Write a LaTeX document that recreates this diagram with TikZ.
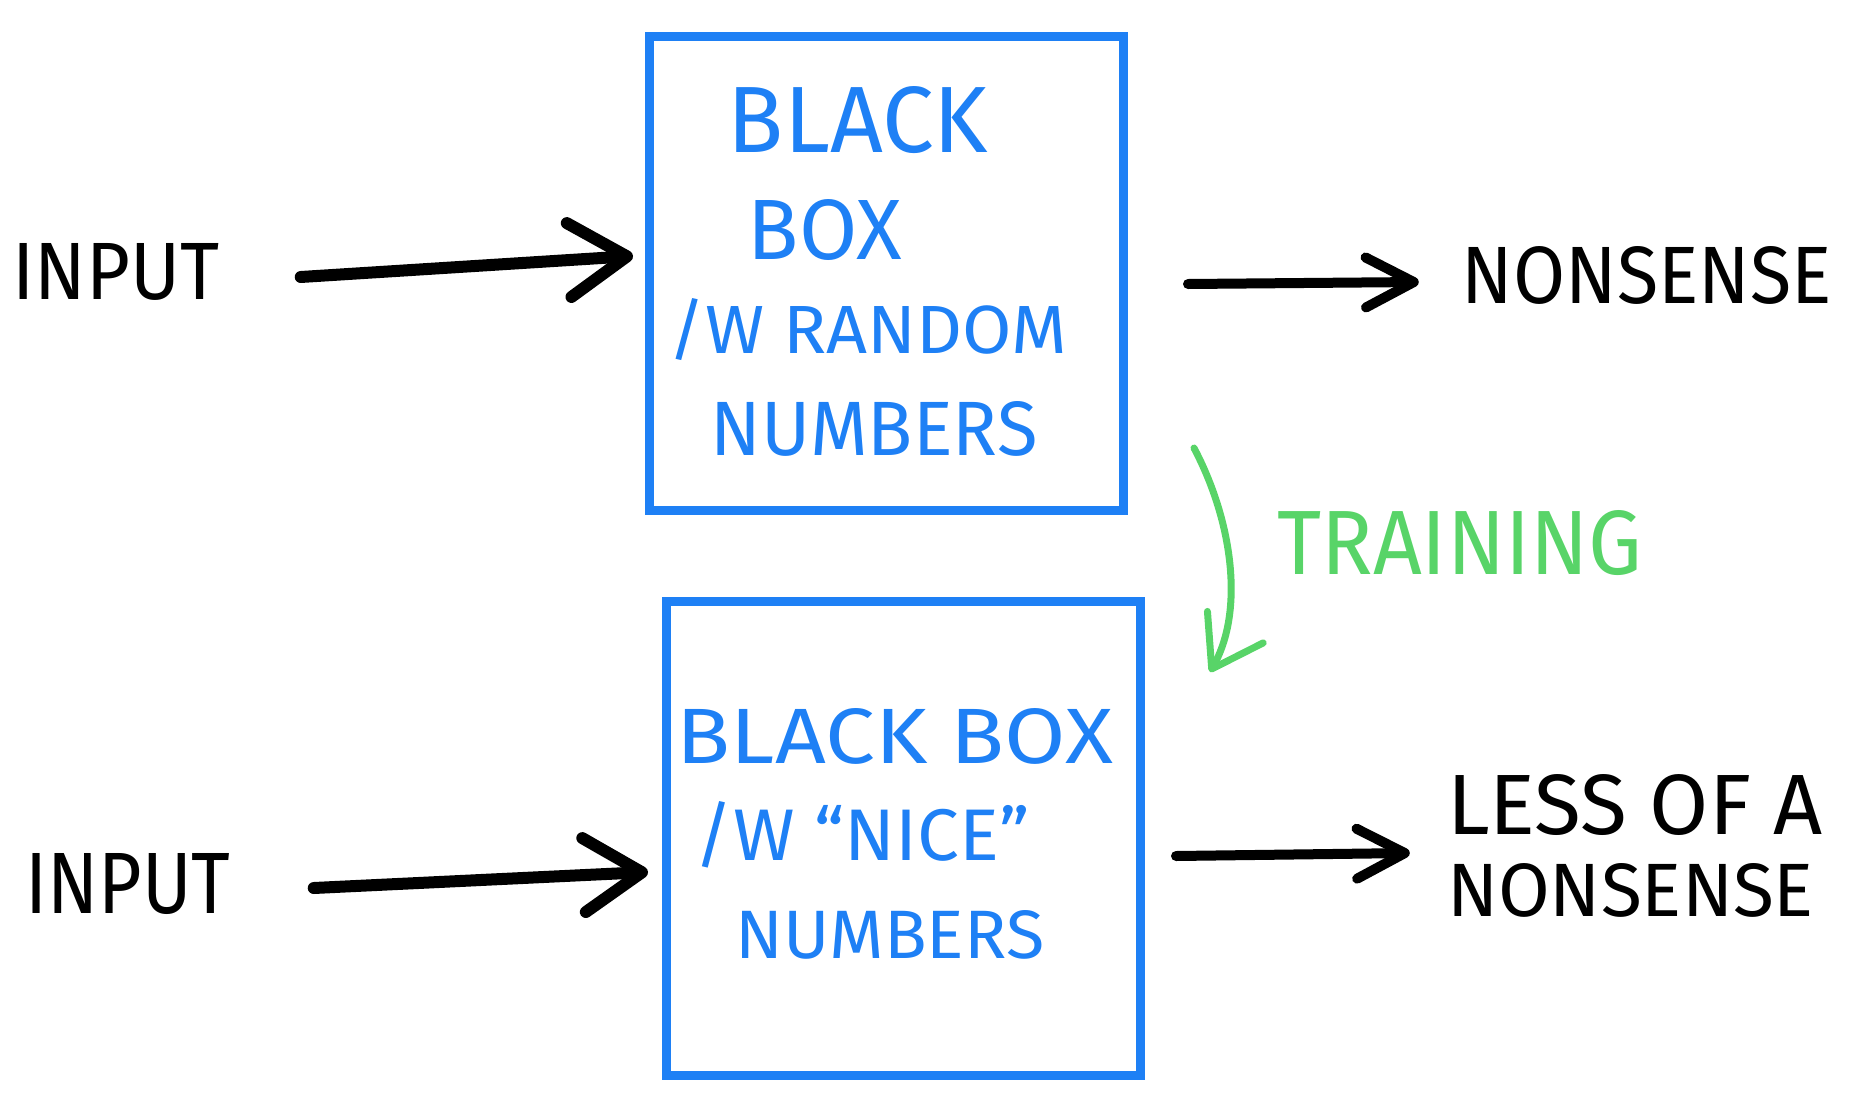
\documentclass[tikz,border=0pt]{standalone}
\usepackage{fontspec}
\setmainfont{Fira Sans}
\usetikzlibrary{arrows.meta}
\definecolor{hwblue}{RGB}{30,128,245}
\definecolor{hwgreen}{RGB}{88,212,104}
\newcommand{\hw}[3]{\resizebox{#1pt}{#2pt}{#3}}
\begin{document}
\begin{tikzpicture}[x=1pt,y=-1pt,
  bbox/.style={draw=hwblue,line width=9pt,minimum width=474pt,minimum height=474pt,inner sep=0pt},
  lbl/.style={inner sep=0pt,anchor=center},
  bluetxt/.style={lbl,text=hwblue},
  karrow/.style={line width=12pt,line cap=round,line join=round,
    -{Straight Barb[length=58pt,width=74pt,line cap=round,line join=round]}},
  rarrow/.style={line width=10pt,line cap=round,line join=round,
    -{Straight Barb[length=48pt,width=50pt,line cap=round,line join=round]}},
  garrow/.style={draw=hwgreen,line width=7pt,line cap=round,line join=round,
    -{Straight Barb[length=48pt,width=64pt,line cap=round,line join=round]}}
]
\useasboundingbox (0,0) rectangle (1856,1106);

% top row
\node[lbl] (in1) at (116,272) {\hw{207}{56}{INPUT}};
\node[bbox] (box1) at (886.5,273.5) {};
\node[bluetxt] (t1a) at (858,120) {\hw{260}{66}{BLACK}};
\node[bluetxt] (t1b) at (825,230) {\hw{154}{60}{BOX}};
\node[bluetxt] (t1c) at (868,330) {\hw{399}{55}{/W RANDOM}};
\node[bluetxt] (t1d) at (874,429) {\hw{327}{54}{NUMBERS}};
\node[lbl] (out1) at (1647,275) {\hw{370}{57}{NONSENSE}};

% training
\node[lbl,text=hwgreen] (train) at (1460,543) {\hw{365}{64}{TRAINING}};
\coordinate (g0) at (1194,448);
\coordinate (g1) at (1210,672);
\draw[garrow] (g0) .. controls (1232,520) and (1245,610) .. (g1);

% bottom row
\node[lbl] (in2) at (128,884) {\hw{205}{60}{INPUT}};
\node[bbox] (box2) at (903.5,838.5) {};
\node[bluetxt] (t2a) at (895,736) {\hw{436}{55}{BLACK BOX}};
\node[bluetxt] (t2b) at (862,835) {\hw{335}{59}{/W “NICE”}};
\node[bluetxt] (t2c) at (890,935) {\hw{309}{48}{NUMBERS}};
\node[lbl,align=left,font=\fontsize{60}{82}\selectfont] (out2) at (1635,846)
  {\hw{376}{60}{LESS OF A}\\\hw{367}{53}{NONSENSE}};

% connectors
\draw[karrow] ([xshift=81pt,yshift=-5pt]in1.east) -- ([xshift=-12pt,yshift=17.5pt]box1.west);
\draw[rarrow] ([xshift=60pt,yshift=-10.5pt]box1.east) -- ([xshift=-43pt,yshift=-7pt]out1.west);
\draw[karrow] ([xshift=83pt,yshift=-4pt]in2.east) -- ([xshift=-14pt,yshift=-33.5pt]box2.west);
\draw[rarrow] ([xshift=31pt,yshift=-17.5pt]box2.east) -- ([xshift=-37pt,yshift=-7pt]out2.west);
\end{tikzpicture}
\end{document}
